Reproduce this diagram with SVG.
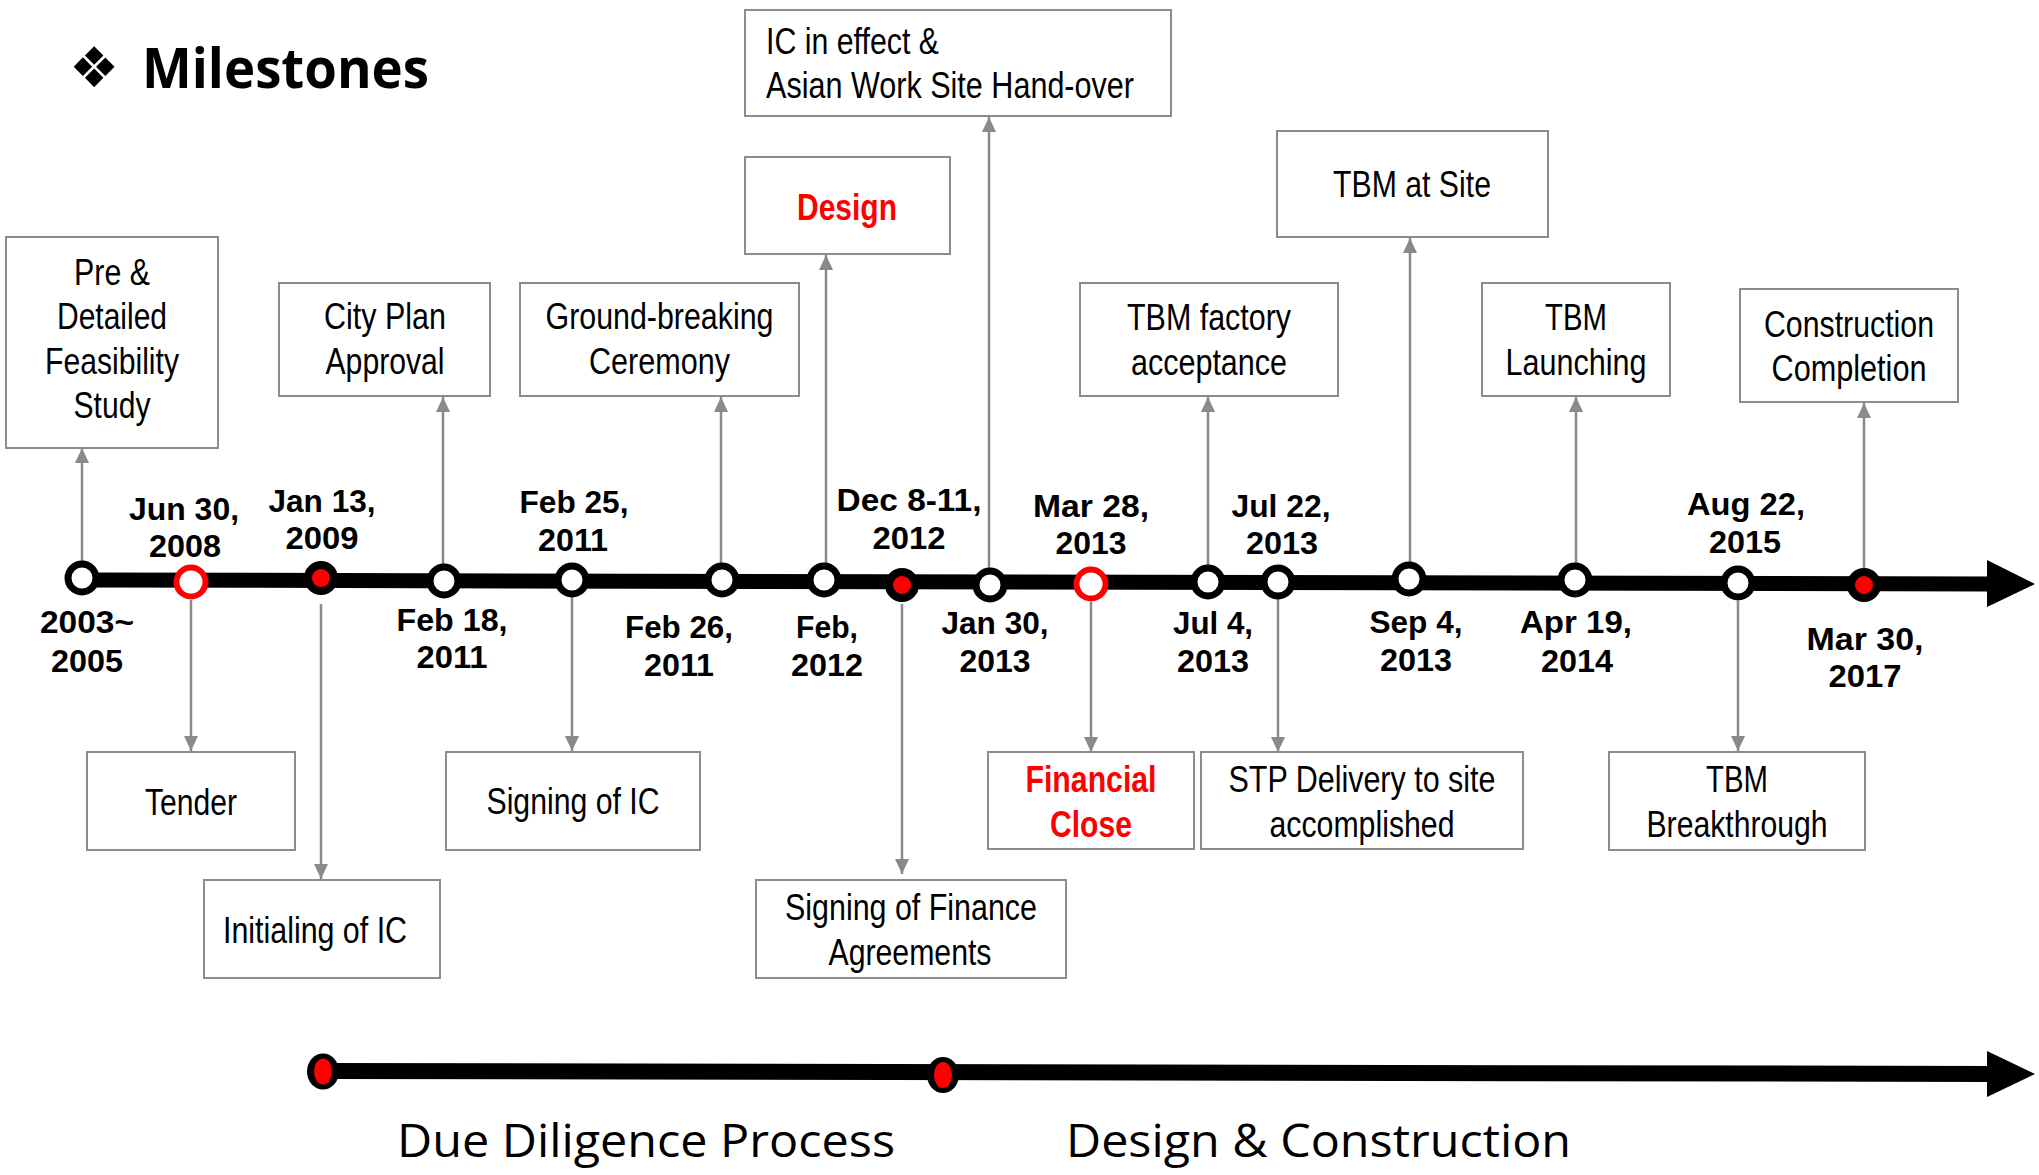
<svg xmlns="http://www.w3.org/2000/svg" width="2039" height="1175" viewBox="0 0 2039 1175">
<style>
.bg{fill:#fff}
.box{fill:#fff;stroke:#8c8c8c;stroke-width:2}
.bt{font-family:"Liberation Sans Narrow","Liberation Sans",Arial,sans-serif;font-size:36px;fill:#000;text-anchor:middle}
.btl{font-family:"Liberation Sans Narrow","Liberation Sans",Arial,sans-serif;font-size:36px;fill:#000}
.red{fill:#f00;font-weight:bold}
.dt{font-family:"Liberation Sans",Arial,sans-serif;font-weight:bold;font-size:32px;fill:#000;text-anchor:middle}
.con{stroke:#8a8a8a;stroke-width:2.5;fill:none}
.bar{stroke:#000;stroke-width:15;fill:none}
.w{fill:#fff;stroke:#000;stroke-width:7}
.rr{fill:#fff;stroke:#f00;stroke-width:6}
.rf{fill:#f00;stroke:#000;stroke-width:8}
.big{font-family:"Open Sans","Noto Sans",sans-serif;font-size:46px;fill:#000}
</style>
<defs>
<marker id="ah" markerUnits="userSpaceOnUse" markerWidth="16" markerHeight="16" viewBox="0 0 16 16" refX="15" refY="8" orient="auto">
<path d="M0,1 L15,8 L0,15 Z" fill="#8a8a8a"/>
</marker>
</defs>
<rect class="bg" x="0" y="0" width="2039" height="1175"/>

<g id="title">
<text x="69" y="87" font-family="DejaVu Sans,sans-serif" font-size="56" fill="#000">❖</text>
<text x="142" y="88" font-family="Open Sans,Noto Sans,sans-serif" font-weight="bold" font-size="56" textLength="287" lengthAdjust="spacingAndGlyphs">Milestones</text>
</g>

<g id="connectors">
<line class="bar" x1="82" y1="580" x2="1990" y2="584"/>
<polygon points="1987,560 2035,584 1987,607" fill="#000"/>
<line class="con" x1="82" y1="562" x2="82" y2="448" marker-end="url(#ah)"/>
<line class="con" x1="443" y1="565" x2="443" y2="397" marker-end="url(#ah)"/>
<line class="con" x1="721" y1="565" x2="721" y2="397" marker-end="url(#ah)"/>
<line class="con" x1="826" y1="565" x2="826" y2="255" marker-end="url(#ah)"/>
<line class="con" x1="989" y1="568" x2="989" y2="117" marker-end="url(#ah)"/>
<line class="con" x1="1208" y1="566" x2="1208" y2="397" marker-end="url(#ah)"/>
<line class="con" x1="1410" y1="563" x2="1410" y2="238" marker-end="url(#ah)"/>
<line class="con" x1="1576" y1="564" x2="1576" y2="397" marker-end="url(#ah)"/>
<line class="con" x1="1864" y1="568" x2="1864" y2="403" marker-end="url(#ah)"/>
<line class="con" x1="191" y1="600" x2="191" y2="751" marker-end="url(#ah)"/>
<line class="con" x1="321" y1="604" x2="321" y2="879" marker-end="url(#ah)"/>
<line class="con" x1="572" y1="596" x2="572" y2="751" marker-end="url(#ah)"/>
<line class="con" x1="902" y1="604" x2="902" y2="874" marker-end="url(#ah)"/>
<line class="con" x1="1091" y1="602" x2="1091" y2="752" marker-end="url(#ah)"/>
<line class="con" x1="1278" y1="598" x2="1278" y2="752" marker-end="url(#ah)"/>
<line class="con" x1="1738" y1="601" x2="1738" y2="751" marker-end="url(#ah)"/>
<line class="bar" x1="323" y1="1071" x2="1990" y2="1074" style="stroke-width:16"/>
<polygon points="1987,1051 2035,1074 1987,1097" fill="#000"/>
</g>

<g id="dots">
<circle class="w" cx="82" cy="578" r="14"/>
<circle class="rr" cx="191" cy="582" r="14.5"/>
<circle class="rf" cx="321" cy="578" r="13"/>
<circle class="w" cx="444" cy="581" r="14"/>
<circle class="w" cx="572" cy="580" r="14"/>
<circle class="w" cx="722" cy="580" r="14"/>
<circle class="w" cx="824" cy="580" r="14"/>
<circle class="rf" cx="902" cy="585" r="13"/>
<circle class="w" cx="990" cy="585" r="14"/>
<circle class="rr" cx="1091" cy="584" r="14.5"/>
<circle class="w" cx="1208" cy="582" r="14"/>
<circle class="w" cx="1278" cy="582" r="14"/>
<circle class="w" cx="1409" cy="579" r="14"/>
<circle class="w" cx="1575" cy="580" r="14"/>
<circle class="w" cx="1738" cy="583" r="14"/>
<circle class="rf" cx="1864" cy="585" r="13"/>
<ellipse cx="323" cy="1071.5" rx="16" ry="18" fill="#000"/>
<ellipse cx="323" cy="1071.5" rx="9" ry="13" fill="#f00"/>
<ellipse cx="943" cy="1075" rx="16" ry="18" fill="#000"/>
<ellipse cx="943" cy="1075" rx="9" ry="13" fill="#f00"/>
</g>

<g id="dates">
<text class="dt" x="87" y="633" textLength="94" lengthAdjust="spacingAndGlyphs">2003~</text>
<text class="dt" x="87" y="672" textLength="72" lengthAdjust="spacingAndGlyphs">2005</text>
<text class="dt" x="184" y="520" textLength="110" lengthAdjust="spacingAndGlyphs">Jun 30,</text>
<text class="dt" x="185" y="557" textLength="72" lengthAdjust="spacingAndGlyphs">2008</text>
<text class="dt" x="322" y="512" textLength="107" lengthAdjust="spacingAndGlyphs">Jan 13,</text>
<text class="dt" x="322" y="549" textLength="73" lengthAdjust="spacingAndGlyphs">2009</text>
<text class="dt" x="452" y="631" textLength="111" lengthAdjust="spacingAndGlyphs">Feb 18,</text>
<text class="dt" x="452" y="668" textLength="71" lengthAdjust="spacingAndGlyphs">2011</text>
<text class="dt" x="574" y="513" textLength="109" lengthAdjust="spacingAndGlyphs">Feb 25,</text>
<text class="dt" x="573" y="551" textLength="70" lengthAdjust="spacingAndGlyphs">2011</text>
<text class="dt" x="679" y="638" textLength="108" lengthAdjust="spacingAndGlyphs">Feb 26,</text>
<text class="dt" x="679" y="676" textLength="70" lengthAdjust="spacingAndGlyphs">2011</text>
<text class="dt" x="827" y="638" textLength="62" lengthAdjust="spacingAndGlyphs">Feb,</text>
<text class="dt" x="827" y="676" textLength="72" lengthAdjust="spacingAndGlyphs">2012</text>
<text class="dt" x="909" y="511" textLength="145" lengthAdjust="spacingAndGlyphs">Dec 8-11,</text>
<text class="dt" x="909" y="549" textLength="73" lengthAdjust="spacingAndGlyphs">2012</text>
<text class="dt" x="995" y="634" textLength="107" lengthAdjust="spacingAndGlyphs">Jan 30,</text>
<text class="dt" x="995" y="672" textLength="71" lengthAdjust="spacingAndGlyphs">2013</text>
<text class="dt" x="1091" y="517" textLength="116" lengthAdjust="spacingAndGlyphs">Mar 28,</text>
<text class="dt" x="1091" y="554" textLength="71" lengthAdjust="spacingAndGlyphs">2013</text>
<text class="dt" x="1213" y="634" textLength="80" lengthAdjust="spacingAndGlyphs">Jul 4,</text>
<text class="dt" x="1213" y="672" textLength="72" lengthAdjust="spacingAndGlyphs">2013</text>
<text class="dt" x="1281" y="517" textLength="99" lengthAdjust="spacingAndGlyphs">Jul 22,</text>
<text class="dt" x="1282" y="554" textLength="72" lengthAdjust="spacingAndGlyphs">2013</text>
<text class="dt" x="1416" y="633" textLength="93" lengthAdjust="spacingAndGlyphs">Sep 4,</text>
<text class="dt" x="1416" y="671" textLength="72" lengthAdjust="spacingAndGlyphs">2013</text>
<text class="dt" x="1576" y="633" textLength="112" lengthAdjust="spacingAndGlyphs">Apr 19,</text>
<text class="dt" x="1577" y="672" textLength="72" lengthAdjust="spacingAndGlyphs">2014</text>
<text class="dt" x="1746" y="515" textLength="118" lengthAdjust="spacingAndGlyphs">Aug 22,</text>
<text class="dt" x="1745" y="553" textLength="72" lengthAdjust="spacingAndGlyphs">2015</text>
<text class="dt" x="1865" y="650" textLength="117" lengthAdjust="spacingAndGlyphs">Mar 30,</text>
<text class="dt" x="1865" y="687" textLength="73" lengthAdjust="spacingAndGlyphs">2017</text>
</g>

<g id="n-feasibility">
<rect class="box" x="6" y="237" width="212" height="211"/>
<text class="bt" x="112" y="285" textLength="76" lengthAdjust="spacingAndGlyphs">Pre &amp;</text>
<text class="bt" x="112" y="329" textLength="110" lengthAdjust="spacingAndGlyphs">Detailed</text>
<text class="bt" x="112" y="374" textLength="134" lengthAdjust="spacingAndGlyphs">Feasibility</text>
<text class="bt" x="112" y="418" textLength="77" lengthAdjust="spacingAndGlyphs">Study</text>
</g>
<g id="n-cityplan">
<rect class="box" x="279" y="283" width="211" height="113"/>
<text class="bt" x="385" y="329" textLength="122" lengthAdjust="spacingAndGlyphs">City Plan</text>
<text class="bt" x="385" y="374" textLength="119" lengthAdjust="spacingAndGlyphs">Approval</text>
</g>
<g id="n-groundbreaking">
<rect class="box" x="520" y="283" width="279" height="113"/>
<text class="bt" x="659.5" y="329" textLength="228" lengthAdjust="spacingAndGlyphs">Ground-breaking</text>
<text class="bt" x="659.5" y="374" textLength="141" lengthAdjust="spacingAndGlyphs">Ceremony</text>
</g>
<g id="n-design">
<rect class="box" x="745" y="157" width="205" height="97"/>
<text class="bt red" x="847" y="220" textLength="100" lengthAdjust="spacingAndGlyphs">Design</text>
</g>
<g id="n-iceffect">
<rect class="box" x="745" y="10" width="426" height="106"/>
<text class="btl" x="766" y="54" textLength="173" lengthAdjust="spacingAndGlyphs">IC in effect &amp;</text>
<text class="btl" x="766" y="98" textLength="368" lengthAdjust="spacingAndGlyphs">Asian Work Site Hand-over</text>
</g>
<g id="n-tbmfactory">
<rect class="box" x="1080" y="283" width="258" height="113"/>
<text class="bt" x="1209" y="330" textLength="164" lengthAdjust="spacingAndGlyphs">TBM factory</text>
<text class="bt" x="1209" y="375" textLength="156" lengthAdjust="spacingAndGlyphs">acceptance</text>
</g>
<g id="n-tbmsite">
<rect class="box" x="1277" y="131" width="271" height="106"/>
<text class="bt" x="1412" y="197" textLength="158" lengthAdjust="spacingAndGlyphs">TBM at Site</text>
</g>
<g id="n-tbmlaunch">
<rect class="box" x="1482" y="283" width="188" height="113"/>
<text class="bt" x="1576" y="330" textLength="62" lengthAdjust="spacingAndGlyphs">TBM</text>
<text class="bt" x="1576" y="375" textLength="141" lengthAdjust="spacingAndGlyphs">Launching</text>
</g>
<g id="n-completion">
<rect class="box" x="1740" y="289" width="218" height="113"/>
<text class="bt" x="1849" y="337" textLength="170" lengthAdjust="spacingAndGlyphs">Construction</text>
<text class="bt" x="1849" y="381" textLength="155" lengthAdjust="spacingAndGlyphs">Completion</text>
</g>
<g id="n-tender">
<rect class="box" x="87" y="752" width="208" height="98"/>
<text class="bt" x="191" y="815" textLength="92" lengthAdjust="spacingAndGlyphs">Tender</text>
</g>
<g id="n-initialing">
<rect class="box" x="204" y="880" width="236" height="98"/>
<text class="bt" x="315" y="943" textLength="184" lengthAdjust="spacingAndGlyphs">Initialing of IC</text>
</g>
<g id="n-signing">
<rect class="box" x="446" y="752" width="254" height="98"/>
<text class="bt" x="573" y="814" textLength="173" lengthAdjust="spacingAndGlyphs">Signing of IC</text>
</g>
<g id="n-finance">
<rect class="box" x="756" y="880" width="310" height="98"/>
<text class="bt" x="911" y="920" textLength="252" lengthAdjust="spacingAndGlyphs">Signing of Finance</text>
<text class="bt" x="910" y="965" textLength="163" lengthAdjust="spacingAndGlyphs">Agreements</text>
</g>
<g id="n-financialclose">
<rect class="box" x="988" y="752" width="206" height="97"/>
<text class="bt red" x="1091" y="792" textLength="131" lengthAdjust="spacingAndGlyphs">Financial</text>
<text class="bt red" x="1091" y="837" textLength="82" lengthAdjust="spacingAndGlyphs">Close</text>
</g>
<g id="n-stp">
<rect class="box" x="1201" y="752" width="322" height="97"/>
<text class="bt" x="1362" y="792" textLength="267" lengthAdjust="spacingAndGlyphs">STP Delivery to site</text>
<text class="bt" x="1362" y="837" textLength="185" lengthAdjust="spacingAndGlyphs">accomplished</text>
</g>
<g id="n-breakthrough">
<rect class="box" x="1609" y="752" width="256" height="98"/>
<text class="bt" x="1737" y="792" textLength="62" lengthAdjust="spacingAndGlyphs">TBM</text>
<text class="bt" x="1737" y="837" textLength="181" lengthAdjust="spacingAndGlyphs">Breakthrough</text>
</g>

<g id="phases">
<text class="big" x="397" y="1157" textLength="498" lengthAdjust="spacingAndGlyphs">Due Diligence Process</text>
<text class="big" x="1066" y="1157" textLength="505" lengthAdjust="spacingAndGlyphs">Design &amp; Construction</text>
</g>
</svg>
